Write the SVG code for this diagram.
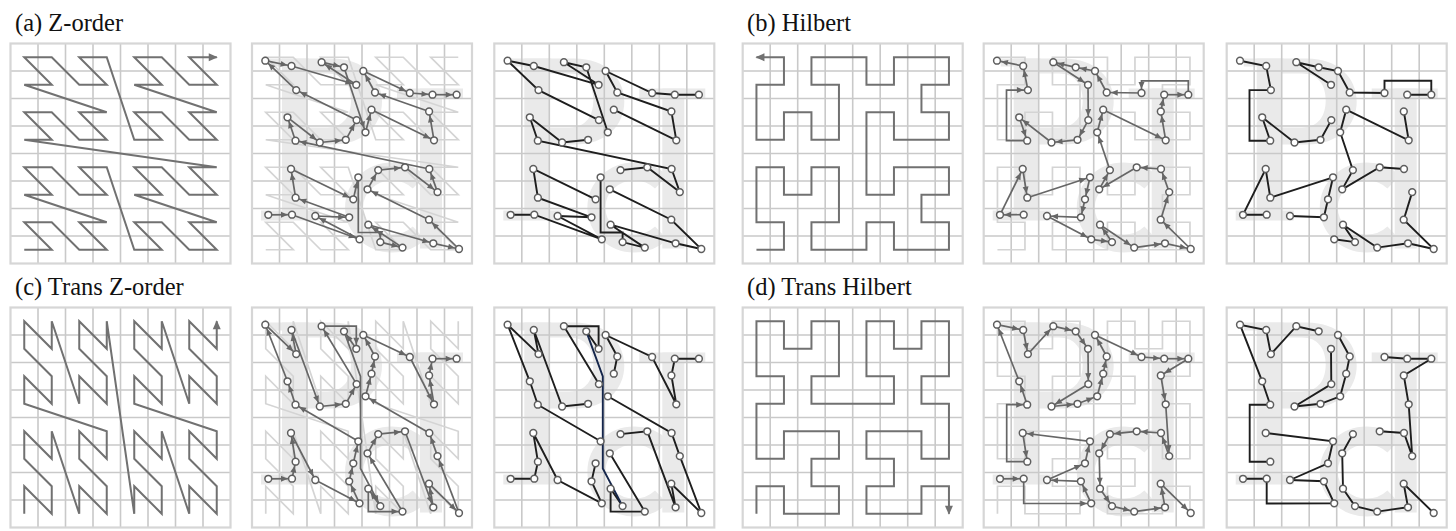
<svg xmlns="http://www.w3.org/2000/svg" width="1456" height="531" viewBox="0 0 1456 531">
<style>
.lbl{font-family:"Liberation Serif","Times New Roman",serif;font-size:24.5px;fill:#111}
.curve{fill:none;stroke:#717171;stroke-width:2}
.faint{fill:none;stroke:#d4d4d4;stroke-width:1.7}
.seg{fill:none;stroke:#666;stroke-width:1.7;marker-end:url(#ah)}
.blk{fill:none;stroke:#1e1e1e;stroke-width:1.9}
</style>
<defs>
<marker id="ah" markerUnits="userSpaceOnUse" markerWidth="12" markerHeight="8" refX="11" refY="3" orient="auto" overflow="visible"><path d="M0,0 L6.8,3 L0,6 Z" fill="#666"/></marker>
<marker id="ab" markerUnits="userSpaceOnUse" markerWidth="10" markerHeight="9" refX="8" refY="4" orient="auto" overflow="visible"><path d="M0,0 L9,4 L0,8 Z" fill="#717171"/></marker>
<g id="grid">
<path d="M27.5,0V220M55,0V220M82.5,0V220M110,0V220M137.5,0V220M165,0V220M192.5,0V220M0,27.5H220M0,55H220M0,82.5H220M0,110H220M0,137.5H220M0,165H220M0,192.5H220" fill="none" stroke="#c9c9c9" stroke-width="1.6"/>
<rect x="0" y="0" width="220" height="220" fill="none" stroke="#d6d6d6" stroke-width="2.2"/>
</g>
<g id="let" fill="#eaeaea">
<rect x="30" y="15" width="25" height="161"/>
<rect x="17" y="15" width="40" height="8"/>
<rect x="9" y="167" width="58" height="10"/>
<path fill-rule="evenodd" d="M55,15 H80 C112,15 130,35 130,58 C130,82 112,101 80,101 H55 Z M55,30 H75 C92,30 99,42 99,57 C99,72 92,84 75,84 H55 Z"/>
<rect x="145" y="45" width="66" height="10"/>
<rect x="168" y="45" width="22" height="160"/>
<path d="M166.9,138.5 A38,36 0 1 0 166.9,189.5" fill="none" stroke="#eaeaea" stroke-width="18"/>
</g>
<path id="zc" d="M13.75,206.25 L41.25,206.25 13.75,178.75 41.25,178.75 68.75,206.25 96.25,206.25 68.75,178.75 96.25,178.75 13.75,151.25 41.25,151.25 13.75,123.75 41.25,123.75 68.75,151.25 96.25,151.25 68.75,123.75 96.25,123.75 123.75,206.25 151.25,206.25 123.75,178.75 151.25,178.75 178.75,206.25 206.25,206.25 178.75,178.75 206.25,178.75 123.75,151.25 151.25,151.25 123.75,123.75 151.25,123.75 178.75,151.25 206.25,151.25 178.75,123.75 206.25,123.75 13.75,96.25 41.25,96.25 13.75,68.75 41.25,68.75 68.75,96.25 96.25,96.25 68.75,68.75 96.25,68.75 13.75,41.25 41.25,41.25 13.75,13.75 41.25,13.75 68.75,41.25 96.25,41.25 68.75,13.75 96.25,13.75 123.75,96.25 151.25,96.25 123.75,68.75 151.25,68.75 178.75,96.25 206.25,96.25 178.75,68.75 206.25,68.75 123.75,41.25 151.25,41.25 123.75,13.75 151.25,13.75 178.75,41.25 206.25,41.25 178.75,13.75 206.25,13.75"/>
<path id="hc" d="M13.75,206.25 L41.25,206.25 41.25,178.75 13.75,178.75 13.75,123.75 41.25,123.75 41.25,151.25 68.75,151.25 68.75,123.75 96.25,123.75 96.25,178.75 68.75,178.75 68.75,206.25 123.75,206.25 123.75,178.75 151.25,178.75 151.25,206.25 206.25,206.25 206.25,178.75 178.75,178.75 178.75,151.25 206.25,151.25 206.25,123.75 151.25,123.75 151.25,151.25 123.75,151.25 123.75,68.75 151.25,68.75 151.25,96.25 206.25,96.25 206.25,68.75 178.75,68.75 178.75,41.25 206.25,41.25 206.25,13.75 151.25,13.75 151.25,41.25 123.75,41.25 123.75,13.75 68.75,13.75 68.75,41.25 96.25,41.25 96.25,96.25 68.75,96.25 68.75,68.75 41.25,68.75 41.25,96.25 13.75,96.25 13.75,41.25 41.25,41.25 41.25,13.75 13.75,13.75"/>
<g id="pts" fill="#fff" stroke="#5e5e5e" stroke-width="1.5">
<circle cx="13.3" cy="17.2" r="3.4"/><circle cx="39.5" cy="22.5" r="3.4"/><circle cx="69.6" cy="18.7" r="3.4"/><circle cx="92" cy="23.8" r="3.4"/><circle cx="104.3" cy="41.3" r="3.4"/><circle cx="111.3" cy="27.5" r="3.4"/><circle cx="123" cy="49" r="3.4"/><circle cx="157.8" cy="49.5" r="3.4"/><circle cx="180.5" cy="51.2" r="3.4"/><circle cx="204.6" cy="51.2" r="3.4"/>
<circle cx="44.2" cy="46.6" r="3.4"/><circle cx="104.6" cy="76.6" r="3.4"/><circle cx="119.5" cy="66.2" r="3.4"/><circle cx="113.5" cy="88.8" r="3.4"/><circle cx="177.1" cy="68" r="3.4"/><circle cx="182" cy="96.8" r="3.4"/><circle cx="35.5" cy="73.8" r="3.4"/><circle cx="43.5" cy="97.2" r="3.4"/><circle cx="67.8" cy="99" r="3.4"/><circle cx="93.8" cy="96.3" r="3.4"/>
<circle cx="39" cy="125.5" r="3.4"/><circle cx="43.6" cy="154.2" r="3.4"/><circle cx="101.3" cy="155.8" r="3.4"/><circle cx="106.3" cy="133.8" r="3.4"/><circle cx="115.5" cy="145.8" r="3.4"/><circle cx="126.2" cy="126.6" r="3.4"/><circle cx="153" cy="123.8" r="3.4"/><circle cx="177.3" cy="125.5" r="3.4"/><circle cx="185.5" cy="148.6" r="3.4"/>
<circle cx="16.3" cy="171.3" r="3.4"/><circle cx="40" cy="171.2" r="3.4"/><circle cx="63.3" cy="172.5" r="3.4"/><circle cx="97.2" cy="173.8" r="3.4"/><circle cx="107.5" cy="195.8" r="3.4"/><circle cx="116.3" cy="181.2" r="3.4"/><circle cx="128.3" cy="198.6" r="3.4"/><circle cx="150.5" cy="204.1" r="3.4"/><circle cx="177" cy="176.2" r="3.4"/><circle cx="181.3" cy="199.8" r="3.4"/><circle cx="207" cy="205.5" r="3.4"/>
</g>
</defs>
<rect width="1456" height="531" fill="#fff"/>
<text class="lbl" x="15" y="31">(a) Z-order</text>
<text class="lbl" x="747" y="31">(b) Hilbert</text>
<text class="lbl" x="15" y="295">(c) Trans Z-order</text>
<text class="lbl" x="747" y="295">(d) Trans Hilbert</text>

<g id="panel-a-curve" transform="translate(10.5,43.5)">
<use href="#grid"/><use href="#zc" class="curve" marker-end="url(#ab)"/>
</g>
<g id="panel-a-arrows" transform="translate(252,43.5)">
<use href="#let"/><use href="#grid"/><use href="#zc" class="faint"/>
<g class="seg">
<path d="M16.3,171.3 L40,171.2"/><path d="M40,171.2 L107.5,195.8"/><path d="M107.5,195.8 L63.3,172.5"/><path d="M63.3,172.5 L97.2,173.8"/><path d="M97.2,173.8 L43.6,154.2"/><path d="M43.6,154.2 L39,125.5"/><path d="M39,125.5 L101.3,155.8"/><path d="M101.3,155.8 L106.3,133.8"/>
<path d="M106.3,133.8 L106.3,189 L128.3,189 L128.3,198.6"/><path d="M128.3,198.6 L150.5,204.1"/><path d="M150.5,204.1 L116.3,181.2"/><path d="M116.3,181.2 L181.3,199.8"/><path d="M181.3,199.8 L207,205.5"/><path d="M207,205.5 L177,176.2"/><path d="M177,176.2 L115.5,145.8"/><path d="M115.5,145.8 L126.2,126.6"/>
<path d="M126.2,126.6 L153,123.8"/><path d="M153,123.8 L185.5,148.6"/><path d="M185.5,148.6 L177.3,125.5"/><path d="M177.3,125.5 L43.5,97.2"/><path d="M43.5,97.2 L35.5,73.8"/><path d="M35.5,73.8 L67.8,99"/><path d="M67.8,99 L93.8,96.3"/><path d="M93.8,96.3 L104.6,76.6"/>
<path d="M104.6,76.6 L44.2,46.6"/><path d="M44.2,46.6 L13.3,17.2"/><path d="M13.3,17.2 L39.5,22.5"/><path d="M39.5,22.5 L104.3,41.3"/><path d="M104.3,41.3 L69.6,18.7"/><path d="M69.6,18.7 L92,23.8"/><path d="M92,23.8 L113.5,88.8"/><path d="M113.5,88.8 L119.5,66.2"/>
<path d="M119.5,66.2 L182,96.8"/><path d="M182,96.8 L177.1,68"/><path d="M177.1,68 L123,49"/><path d="M123,49 L111.3,27.5"/><path d="M111.3,27.5 L157.8,49.5"/><path d="M157.8,49.5 L180.5,51.2"/><path d="M180.5,51.2 L204.6,51.2"/>
</g>
<use href="#pts"/>
</g>
<g id="panel-a-ordered" transform="translate(494.3,43.5)">
<use href="#let"/><use href="#grid"/>
<g class="blk">
<path d="M16.3,171.3 L40,171.2 L107.5,195.8 L63.3,172.5 L97.2,173.8 L43.6,154.2 L39,125.5 L101.3,155.8"/>
<path d="M106.3,133.8 L106.3,189 L128.3,189 L128.3,198.6 L150.5,204.1 L116.3,181.2 L181.3,199.8 L207,205.5 L177,176.2 L115.5,145.8"/>
<path d="M126.2,126.6 L153,123.8 L185.5,148.6 L177.3,125.5 L43.5,97.2 L35.5,73.8 L67.8,99 L93.8,96.3"/>
<path d="M104.6,76.6 L44.2,46.6 L13.3,17.2 L39.5,22.5 L104.3,41.3 L69.6,18.7 L92,23.8 L113.5,88.8"/>
<path d="M119.5,66.2 L182,96.8 L177.1,68 L123,49 L111.3,27.5 L157.8,49.5 L180.5,51.2 L204.6,51.2"/>
</g>
<use href="#pts"/>
</g>

<g id="panel-b-curve" transform="translate(742.7,43.5)">
<use href="#grid"/><use href="#hc" class="curve" marker-end="url(#ab)"/>
</g>
<g id="panel-b-arrows" transform="translate(983.7,43.5)">
<use href="#let"/><use href="#grid"/><use href="#hc" class="faint"/>
<g class="seg">
<path d="M40,171.2 L16.3,171.3"/><path d="M16.3,171.3 L39,125.5"/><path d="M39,125.5 L43.6,154.2"/><path d="M43.6,154.2 L106.3,133.8"/><path d="M106.3,133.8 L101.3,155.8"/><path d="M101.3,155.8 L97.2,173.8"/><path d="M97.2,173.8 L63.3,172.5"/><path d="M63.3,172.5 L107.5,195.8"/>
<path d="M107.5,195.8 L128.3,198.6"/><path d="M128.3,198.6 L116.3,181.2"/><path d="M116.3,181.2 L150.5,204.1"/><path d="M150.5,204.1 L181.3,199.8"/><path d="M181.3,199.8 L207,205.5"/><path d="M207,205.5 L177,176.2"/><path d="M177,176.2 L185.5,148.6"/><path d="M185.5,148.6 L177.3,125.5"/>
<path d="M177.3,125.5 L153,123.8"/><path d="M153,123.8 L115.5,145.8"/><path d="M115.5,145.8 L126.2,126.6"/><path d="M126.2,126.6 L113.5,88.8"/><path d="M113.5,88.8 L119.5,66.2"/><path d="M119.5,66.2 L182,96.8"/><path d="M182,96.8 L177.1,68"/><path d="M177.1,68 L180.5,51.2"/>
<path d="M180.5,51.2 L204.6,51.2"/><path d="M204.6,51.2 L204.6,37.3 L157.8,37.3 L157.8,49.5"/><path d="M157.8,49.5 L123,49"/><path d="M123,49 L111.3,27.5"/><path d="M111.3,27.5 L92,23.8"/><path d="M92,23.8 L69.6,18.7"/><path d="M69.6,18.7 L104.3,41.3"/><path d="M104.3,41.3 L104.6,76.6"/>
<path d="M104.6,76.6 L93.8,96.3"/><path d="M93.8,96.3 L67.8,99"/><path d="M67.8,99 L35.5,73.8"/><path d="M35.5,73.8 L43.5,97.2"/><path d="M43.5,97.2 L22.8,97.2 L22.8,46.6 L44.2,46.6"/><path d="M44.2,46.6 L39.5,22.5"/><path d="M39.5,22.5 L13.3,17.2"/>
</g>
<use href="#pts"/>
</g>
<g id="panel-b-ordered" transform="translate(1226.7,43.5)">
<use href="#let"/><use href="#grid"/>
<g class="blk">
<path d="M40,171.2 L16.3,171.3 L39,125.5 L43.6,154.2 L106.3,133.8 L101.3,155.8 L97.2,173.8 L63.3,172.5"/>
<path d="M107.5,195.8 L128.3,198.6 L116.3,181.2 L150.5,204.1 L181.3,199.8 L207,205.5 L177,176.2 L185.5,148.6"/>
<path d="M177.3,125.5 L153,123.8 L115.5,145.8 L126.2,126.6 L113.5,88.8 L119.5,66.2 L182,96.8 L177.1,68"/>
<path d="M180.5,51.2 L204.6,51.2 L204.6,37.3 L157.8,37.3 L157.8,49.5 L123,49 L111.3,27.5 L92,23.8 L69.6,18.7 L104.3,41.3"/>
<path d="M104.6,76.6 L93.8,96.3 L67.8,99 L35.5,73.8 L43.5,97.2 L22.8,97.2 L22.8,46.6 L44.2,46.6 L39.5,22.5 L13.3,17.2"/>
</g>
<use href="#pts"/>
</g>

<g id="panel-c-curve" transform="translate(10.5,307.5)">
<use href="#grid"/><use href="#zc" class="curve" marker-end="url(#ab)" transform="matrix(0,-1,-1,0,220,220)"/>
</g>
<g id="panel-c-arrows" transform="translate(252,307.5)">
<use href="#let"/><use href="#grid"/><use href="#zc" class="faint" transform="matrix(0,-1,-1,0,220,220)"/>
<g class="seg">
<path d="M16.3,171.3 L40,171.2"/><path d="M40,171.2 L43.6,154.2"/><path d="M43.6,154.2 L39,125.5"/><path d="M39,125.5 L63.3,172.5"/><path d="M63.3,172.5 L107.5,195.8"/><path d="M107.5,195.8 L97.2,173.8"/><path d="M97.2,173.8 L101.3,155.8"/><path d="M101.3,155.8 L106.3,133.8"/>
<path d="M106.3,133.8 L43.5,97.2"/><path d="M43.5,97.2 L35.5,73.8"/><path d="M35.5,73.8 L13.3,17.2"/><path d="M13.3,17.2 L44.2,46.6"/><path d="M44.2,46.6 L39.5,22.5"/><path d="M39.5,22.5 L67.8,99"/><path d="M67.8,99 L93.8,96.3"/><path d="M93.8,96.3 L104.6,76.6"/>
<path d="M104.6,76.6 L69.6,18.7"/><path d="M69.6,18.7 L104.3,18.7 L104.3,41.3"/><path d="M104.3,41.3 L92,23.8"/><path d="M92,23.8 L108.5,69 L108.5,161 L128.3,198.6"/><path d="M128.3,198.6 L116.3,181.2"/><path d="M116.3,181.2 L116.3,204.1 L150.5,204.1"/><path d="M150.5,204.1 L115.5,145.8"/><path d="M115.5,145.8 L126.2,126.6"/>
<path d="M126.2,126.6 L153,123.8"/><path d="M153,123.8 L181.3,199.8"/><path d="M181.3,199.8 L177,176.2"/><path d="M177,176.2 L207,205.5"/><path d="M207,205.5 L185.5,148.6"/><path d="M185.5,148.6 L177.3,125.5"/><path d="M177.3,125.5 L113.5,88.8"/><path d="M113.5,88.8 L119.5,66.2"/>
<path d="M119.5,66.2 L123,49"/><path d="M123,49 L111.3,27.5"/><path d="M111.3,27.5 L157.8,49.5"/><path d="M157.8,49.5 L182,96.8"/><path d="M182,96.8 L177.1,68"/><path d="M177.1,68 L180.5,51.2"/><path d="M180.5,51.2 L204.6,51.2"/>
</g>
<use href="#pts"/>
</g>
<g id="panel-c-ordered" transform="translate(494.3,307.5)">
<use href="#let"/><use href="#grid"/>
<g class="blk">
<path d="M16.3,171.3 L40,171.2 L43.6,154.2 L39,125.5 L63.3,172.5 L107.5,195.8 L97.2,173.8 L101.3,155.8"/>
<path d="M106.3,133.8 L43.5,97.2 L35.5,73.8 L13.3,17.2 L44.2,46.6 L39.5,22.5 L67.8,99 L93.8,96.3"/>
<path d="M104.6,76.6 L69.6,18.7 L104.3,18.7 L104.3,41.3 L92,23.8"/>
<path d="M128.3,198.6 L116.3,181.2 L116.3,204.1 L150.5,204.1 L115.5,145.8"/>
<path d="M126.2,126.6 L153,123.8 L181.3,199.8 L177,176.2 L207,205.5 L185.5,148.6 L177.3,125.5 L113.5,88.8"/>
<path d="M119.5,66.2 L123,49 L111.3,27.5 L157.8,49.5 L182,96.8 L177.1,68 L180.5,51.2 L204.6,51.2"/>
<path d="M92,23.8 L108.5,69 L108.5,161 L128.3,198.6" stroke="#15264b"/>
</g>
<use href="#pts"/>
</g>

<g id="panel-d-curve" transform="translate(742.7,307.5)">
<use href="#grid"/><use href="#hc" class="curve" marker-end="url(#ab)" transform="matrix(0,-1,-1,0,220,220)"/>
</g>
<g id="panel-d-arrows" transform="translate(983.7,307.5)">
<use href="#let"/><use href="#grid"/><use href="#hc" class="faint" transform="matrix(0,-1,-1,0,220,220)"/>
<g class="seg">
<path d="M16.3,171.3 L40,171.2"/><path d="M40,171.2 L40,196 L107.5,196"/><path d="M107.5,195.8 L97.2,173.8"/><path d="M97.2,173.8 L63.3,172.5"/><path d="M63.3,172.5 L101.3,155.8"/><path d="M101.3,155.8 L106.3,133.8"/><path d="M106.3,133.8 L39,125.5"/><path d="M39,125.5 L43.6,154.2"/>
<path d="M43.6,154.2 L23,154.2 L23,97.2 L43.5,97.2"/><path d="M43.5,97.2 L35.5,73.8"/><path d="M35.5,73.8 L13.3,17.2"/><path d="M13.3,17.2 L39.5,22.5"/><path d="M39.5,22.5 L44.2,46.6"/><path d="M44.2,46.6 L69.6,18.7"/><path d="M69.6,18.7 L92,23.8"/><path d="M92,23.8 L104.3,41.3"/>
<path d="M104.3,41.3 L104.6,76.6"/><path d="M104.6,76.6 L67.8,99"/><path d="M67.8,99 L93.8,96.3"/><path d="M93.8,96.3 L113.5,88.8"/><path d="M113.5,88.8 L119.5,66.2"/><path d="M119.5,66.2 L123,49"/><path d="M123,49 L111.3,27.5"/><path d="M111.3,27.5 L157.8,49.5"/>
<path d="M157.8,49.5 L180.5,51.2"/><path d="M180.5,51.2 L204.6,51.2"/><path d="M204.6,51.2 L177.1,68"/><path d="M177.1,68 L182,96.8"/><path d="M182,96.8 L185.5,148.6"/><path d="M185.5,148.6 L177.3,125.5"/><path d="M177.3,125.5 L153,123.8"/><path d="M153,123.8 L126.2,126.6"/>
<path d="M126.2,126.6 L115.5,145.8"/><path d="M115.5,145.8 L116.3,181.2"/><path d="M116.3,181.2 L128.3,198.6"/><path d="M128.3,198.6 L150.5,204.1"/><path d="M150.5,204.1 L181.3,199.8"/><path d="M181.3,199.8 L177,176.2"/><path d="M177,176.2 L207,205.5"/>
</g>
<use href="#pts"/>
</g>
<g id="panel-d-ordered" transform="translate(1226.7,307.5)">
<use href="#let"/><use href="#grid"/>
<g class="blk">
<path d="M16.3,171.3 L40,171.2 L40,196 L107.5,195.8 L97.2,173.8 L63.3,172.5 L101.3,155.8 L106.3,133.8 L39,125.5"/>
<path d="M43.6,154.2 L23,154.2 L23,97.2 L43.5,97.2 L35.5,73.8 L13.3,17.2 L39.5,22.5 L44.2,46.6 L69.6,18.7 L92,23.8"/>
<path d="M104.3,41.3 L104.6,76.6 L67.8,99 L93.8,96.3 L113.5,88.8 L119.5,66.2 L123,49 L111.3,27.5"/>
<path d="M157.8,49.5 L180.5,51.2 L204.6,51.2 L177.1,68 L182,96.8 L185.5,148.6 L177.3,125.5 L153,123.8"/>
<path d="M126.2,126.6 L115.5,145.8 L116.3,181.2 L128.3,198.6 L150.5,204.1 L181.3,199.8 L177,176.2 L207,205.5"/>
</g>
<use href="#pts"/>
</g>
</svg>
